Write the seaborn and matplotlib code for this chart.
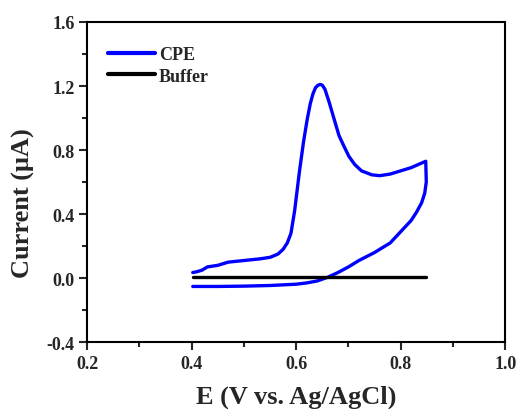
import matplotlib
matplotlib.use("Agg")
import matplotlib.pyplot as plt
import seaborn as sns
import pandas as pd
from matplotlib.ticker import MultipleLocator

cpe_e = [0.402, 0.41, 0.42, 0.43, 0.45, 0.47, 0.50, 0.53, 0.55, 0.565, 0.575, 0.583, 0.59,
         0.597, 0.606, 0.614, 0.621, 0.627, 0.632, 0.637, 0.642, 0.646, 0.650, 0.655, 0.663,
         0.672, 0.682, 0.692, 0.701, 0.712, 0.725, 0.745, 0.76, 0.78, 0.80, 0.82, 0.848,
         0.849, 0.846, 0.84, 0.83, 0.82, 0.80, 0.78, 0.75, 0.72, 0.70, 0.68, 0.66, 0.64,
         0.62, 0.60, 0.55, 0.50, 0.45, 0.402]
cpe_i = [0.035, 0.04, 0.05, 0.07, 0.08, 0.10, 0.11, 0.12, 0.13, 0.15, 0.18, 0.22, 0.28,
         0.42, 0.66, 0.85, 0.99, 1.09, 1.15, 1.19, 1.205, 1.21, 1.205, 1.18, 1.10,
         1.00, 0.89, 0.82, 0.76, 0.71, 0.67, 0.645, 0.64, 0.65, 0.67, 0.69, 0.73,
         0.60, 0.53, 0.47, 0.41, 0.36, 0.29, 0.22, 0.16, 0.11, 0.07, 0.035, 0.005, -0.018,
         -0.03, -0.038, -0.046, -0.05, -0.052, -0.052]
buf_e = [0.402, 0.848]
buf_i = [0.005, 0.005]

sns.set_style("white")
plt.rcParams['font.family'] = ['Liberation Serif', 'DejaVu Serif']
plt.rcParams['font.weight'] = 'bold'

fig = plt.figure(figsize=(5.16, 4.10), dpi=100)
ax = fig.add_axes([0.169, 0.163, 0.810, 0.781])

df_cpe = pd.DataFrame({"E": cpe_e, "I": cpe_i})
df_buf = pd.DataFrame({"E": buf_e, "I": buf_i})
sns.lineplot(data=df_cpe, x="E", y="I", sort=False, estimator=None, color="#0000ff",
             lw=2.4, ax=ax, label="CPE")
sns.lineplot(data=df_buf, x="E", y="I", sort=False, estimator=None, color="black",
             lw=2.4, ax=ax, label="Buffer")

ax.set_xlim(0.2, 1.0)
ax.set_ylim(-0.4, 1.6)
ax.xaxis.set_major_locator(MultipleLocator(0.2))
ax.xaxis.set_minor_locator(MultipleLocator(0.1))
ax.yaxis.set_major_locator(MultipleLocator(0.4))
ax.yaxis.set_minor_locator(MultipleLocator(0.2))
ax.tick_params(which='both', direction='out', bottom=True, left=True, top=False, right=False,
               width=1.5, labelsize=13, pad=3)
ax.tick_params(which='major', length=6)
ax.tick_params(which='minor', length=3.5)
ax.set_xticklabels([f"{v:.1f}" for v in ax.get_xticks()], fontweight='bold')
ax.set_yticklabels([f"{v:.1f}" for v in ax.get_yticks()], fontweight='bold')
for s in ax.spines.values():
    s.set_linewidth(1.5)
    s.set_color('black')

ax.set_xlabel("E (V vs. Ag/AgCl)", fontsize=19, fontweight='bold', labelpad=9)
ax.set_ylabel("Current (μA)", fontsize=19, fontweight='bold')
ax.yaxis.set_label_coords(-0.125, 0.4375)

leg = ax.legend(loc='upper left', frameon=False, prop={'weight': 'bold', 'size': 13},
                handlelength=2.6, handletextpad=0.2, labelspacing=0.25,
                bbox_to_anchor=(0.012, 0.975))
for l in leg.get_lines():
    l.set_linewidth(3)

fig.savefig("out.png", dpi=100)
